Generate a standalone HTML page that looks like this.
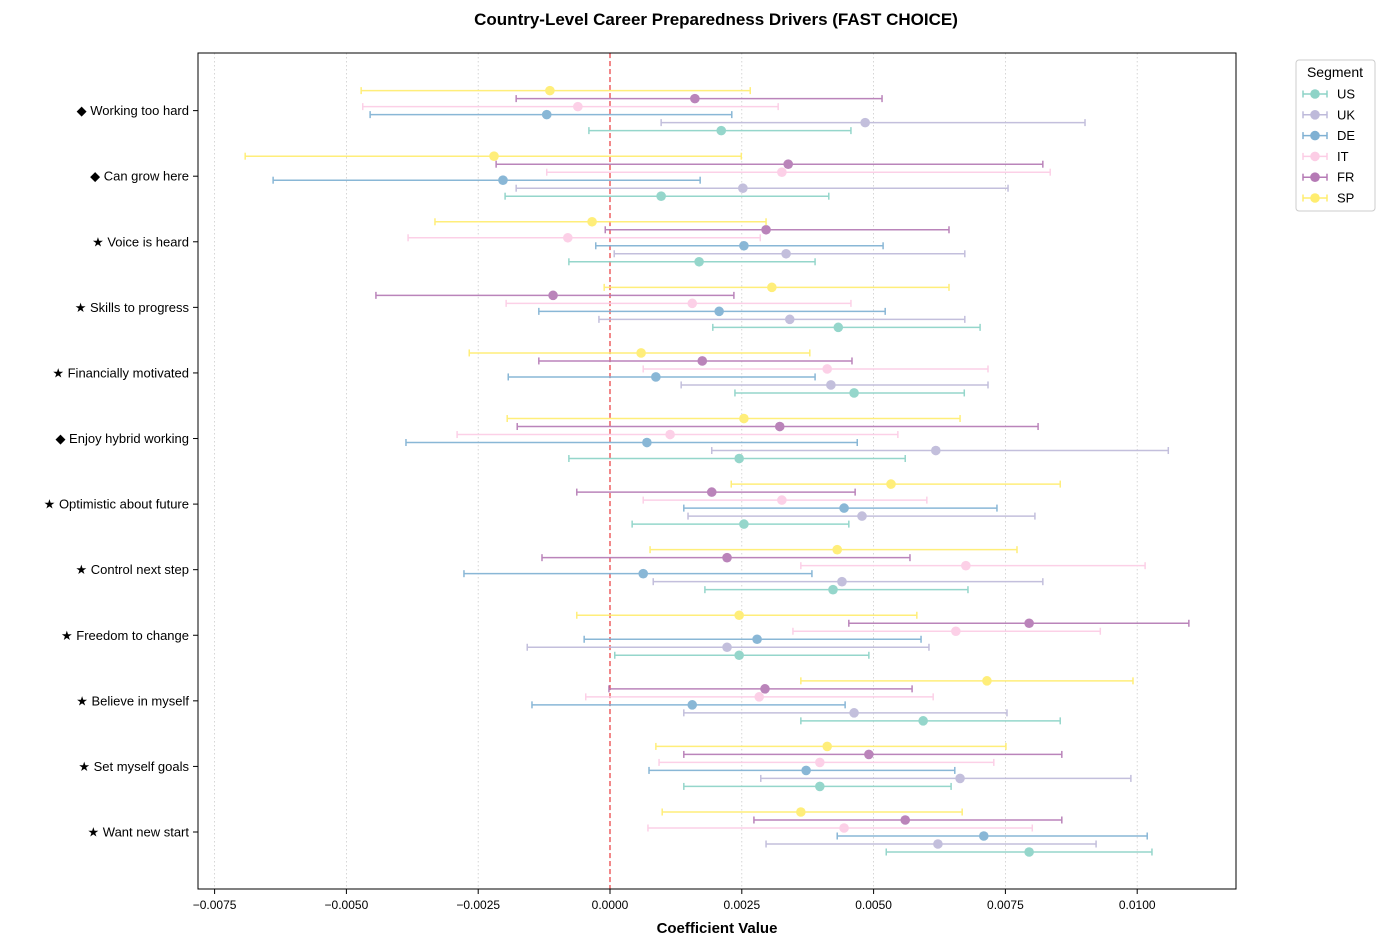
<!DOCTYPE html>
<html><head><meta charset="utf-8"><style>
body{margin:0;background:#fff;font-family:"Liberation Sans",sans-serif}
svg text{font-family:"Liberation Sans","DejaVu Sans",sans-serif}
</style></head><body>
<svg id="c" width="1384" height="947"></svg>
<script>
const categories=["★ Want new start","★ Set myself goals","★ Believe in myself","★ Freedom to change","★ Control next step","★ Optimistic about future","◆ Enjoy hybrid working","★ Financially motivated","★ Skills to progress","★ Voice is heard","◆ Can grow here","◆ Working too hard"];
const segments=["US","UK","DE","IT","FR","SP"];
const colors=["#8dd3c7","#bebada","#80b1d3","#fccde5","#b57ab5","#ffed6f"];
const ticks=[-0.0075,-0.005,-0.0025,0,0.0025,0.005,0.0075,0.01];
const tickLabels=["−0.0075","−0.0050","−0.0025","0.0000","0.0025","0.0050","0.0075","0.0100"];
// values in units of 1e-4, one entry per category (bottom to top)
const usCoef=[79.5,39.8,59.4,24.5,42.3,25.4,24.5,46.3,43.3,16.9,9.7,21.1];
const usLo=[52.4,14.0,36.2,0.9,18.0,4.2,-7.8,23.7,19.5,-7.8,-19.9,-4.0];
const usHi=[102.8,64.7,85.4,49.1,67.9,45.3,56.0,67.2,70.2,38.9,41.5,45.7];
const ukCoef=[62.2,66.4,46.3,22.2,44.0,47.8,61.8,41.9,34.1,33.4,25.2,48.4];
const ukLo=[29.6,28.6,14.0,-15.7,8.2,14.8,19.3,13.5,-2.1,0.8,-17.8,9.7];
const ukHi=[92.2,98.8,75.3,60.5,82.1,80.6,105.9,71.7,67.3,67.3,75.5,90.1];
const deCoef=[70.9,37.2,15.6,27.9,6.3,44.4,7.0,8.7,20.7,25.4,-20.3,-12.0];
const deLo=[43.1,7.4,-14.8,-4.9,-27.7,14.0,-38.7,-19.3,-13.5,-2.7,-63.9,-45.5];
const deHi=[101.9,65.4,44.6,59.0,38.3,73.4,46.9,38.9,52.2,51.8,17.1,23.1];
const itCoef=[44.4,39.8,28.3,65.6,67.5,32.6,11.4,41.2,15.6,-8.0,32.6,-6.1];
const itLo=[7.2,9.3,-4.6,34.7,36.2,6.3,-29.0,6.3,-19.7,-38.3,-12.0,-46.9];
const itHi=[80.1,72.8,61.3,93.0,101.5,60.1,54.6,71.7,45.7,28.5,83.5,31.9];
const frCoef=[56.0,49.1,29.4,79.5,22.2,19.3,32.2,17.5,-10.8,29.6,33.8,16.1];
const frLo=[27.3,14.0,-0.2,45.3,-12.9,-6.3,-17.6,-13.5,-44.4,-0.9,-21.6,-17.8];
const frHi=[85.7,85.7,57.3,109.8,56.9,46.5,81.2,45.9,23.5,64.3,82.1,51.6];
const spCoef=[36.2,41.2,71.5,24.5,43.1,53.3,25.4,5.9,30.7,-3.4,-22.0,-11.4];
const spLo=[9.9,8.7,36.2,-6.3,7.6,23.0,-19.5,-26.7,-1.1,-33.2,-69.2,-47.2];
const spHi=[66.8,75.1,99.2,58.2,77.2,85.4,66.4,37.9,64.3,29.6,24.9,26.6];
const coefs=[usCoef,ukCoef,deCoef,itCoef,frCoef,spCoef];
const los=[usLo,ukLo,deLo,itLo,frLo,spLo];
const his=[usHi,ukHi,deHi,itHi,frHi,spHi];

const NS="http://www.w3.org/2000/svg";
const svg=document.getElementById("c");
function mk(t,a,p){const e=document.createElementNS(NS,t);for(const k in a)e.setAttribute(k,a[k]);(p||svg).appendChild(e);return e;}
const L=198,R=1236,T=53,B=889;
const x0=610,pxPer=52720;
const xs=v=>x0+v*pxPer;
const ys=i=>832-i*65.58;
// grid
ticks.forEach((t,i)=>{
  const g=mk("line",{x1:xs(t),x2:xs(t),y1:T,y2:B,stroke:"#ccc","stroke-width":0.8,"stroke-dasharray":"1.5,2.5"});
  
  
  const tk=mk("line",{x1:xs(t),x2:xs(t),y1:B,y2:B+5,stroke:"#000"});
  const tl=mk("text",{x:xs(t),y:B+20,"text-anchor":"middle","font-size":12});
  tl.textContent=tickLabels[i];
  
  
});
const zl=mk("line",{x1:xs(0),x2:xs(0),y1:T,y2:B,stroke:"#e8383b","stroke-width":1.2,"stroke-dasharray":"5,3"});


categories.forEach((c,i)=>{
  mk("line",{x1:L-5,x2:L,y1:ys(i),y2:ys(i),stroke:"#000"});
  const t=mk("text",{x:L-9,y:ys(i)+4.5,"text-anchor":"end","font-size":13});
  t.textContent=c;
  
  
});
const offs=[20,12,4,-4,-12,-20];
segments.forEach((s,si)=>{
  const col=colors[si];
  categories.forEach((c,i)=>{
    const y=ys(i)+offs[si];
    const g=mk("g",{opacity:0.92});
    
    
    const a=xs(los[si][i]*1e-4),b=xs(his[si][i]*1e-4),m=xs(coefs[si][i]*1e-4);
    mk("line",{x1:a,x2:b,y1:y,y2:y,stroke:col,"stroke-width":1.5},g);
    mk("line",{x1:a,x2:a,y1:y-3.5,y2:y+3.5,stroke:col,"stroke-width":1.5},g);
    mk("line",{x1:b,x2:b,y1:y-3.5,y2:y+3.5,stroke:col,"stroke-width":1.5},g);
    const p=mk("circle",{cx:m,cy:y,r:4.8,fill:col},g);
    
    
  });
});
mk("rect",{x:L,y:T,width:R-L,height:B-T,fill:"none",stroke:"#000","stroke-width":1});
const title=mk("text",{x:716,y:25,"text-anchor":"middle","font-size":17,"font-weight":"bold"});
title.textContent="Country-Level Career Preparedness Drivers (FAST CHOICE)";


const xt=mk("text",{x:717,y:933,"text-anchor":"middle","font-size":15,"font-weight":"bold"});
xt.textContent="Coefficient Value";


// legend
const lg=mk("g",{});


mk("rect",{x:1296,y:60,width:79,height:151,rx:3,fill:"#fff",stroke:"#ccc"},lg);
const lt=mk("text",{x:1335,y:77,"text-anchor":"middle","font-size":14},lg);
lt.textContent="Segment";
segments.forEach((s,si)=>{
  const y=94+si*20.8,col=colors[si];
  const e=mk("g",{},lg);
  
  
  mk("line",{x1:1303,x2:1327,y1:y,y2:y,stroke:col,"stroke-width":1.5},e);
  mk("line",{x1:1303,x2:1303,y1:y-3.5,y2:y+3.5,stroke:col,"stroke-width":1.5},e);
  mk("line",{x1:1327,x2:1327,y1:y-3.5,y2:y+3.5,stroke:col,"stroke-width":1.5},e);
  mk("circle",{cx:1315,cy:y,r:4.8,fill:col},e);
  const t=mk("text",{x:1337,y:y+4.5,"font-size":13},e);
  t.textContent=s;
});
</script>
</body></html>
